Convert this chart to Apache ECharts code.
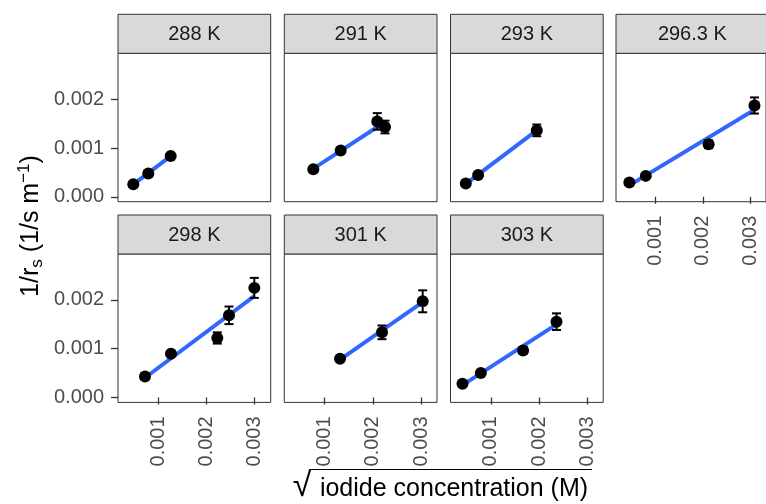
<!DOCTYPE html>
<html>
<head>
<meta charset="utf-8">
<script src="https://cdn.jsdelivr.net/npm/echarts@6/dist/echarts.min.js"></script>
<style>html,body{margin:0;padding:0;background:#fff}#c{width:766px;height:504px}</style>
</head>
<body>
<div id="c"></div>
<script>
// ---- data (values in M^0.5 and 1/s m^-1) ----
const panels = ['288 K', '291 K', '293 K', '296.3 K', '298 K', '301 K', '303 K'];

const x_288 = [0.000481, 0.000793, 0.001257];
const y_288 = [0.000259, 0.000478, 0.000837];
const e_288 = [0.00002, 0.00002, 0.00003];
const fit_288 = [[0.000481, 0.000254], [0.001257, 0.000833]];

const x_291 = [0.000766, 0.001334, 0.002093, 0.002253];
const y_291 = [0.000565, 0.000947, 0.001545, 0.00143];
const e_291 = [0.00002, 0.00003, 0.00017, 0.00013];
const fit_291 = [[0.000766, 0.000579], [0.002253, 0.001533]];

const x_293 = [0.000481, 0.000737, 0.001954];
const y_293 = [0.000273, 0.000449, 0.001361];
const e_293 = [0.00002, 0.00002, 0.00012];
const fit_293 = [[0.000481, 0.000267], [0.001954, 0.00136]];

const x_2963 = [0.000446, 0.000793, 0.00212, 0.003089];
const y_2963 = [0.000294, 0.000429, 0.001076, 0.001871];
const e_2963 = [0.00002, 0.00002, 0.00008, 0.000165];
const fit_2963 = [[0.000446, 0.000235], [0.003089, 0.001782]];

const x_298 = [0.000724, 0.001263, 0.002224, 0.002467, 0.002992];
const y_298 = [0.000431, 0.000897, 0.00122, 0.001684, 0.002246];
const e_298 = [0.00002, 0.00003, 0.000115, 0.00018, 0.000205];
const fit_298 = [[0.000724, 0.000405], [0.002992, 0.002075]];

const x_301 = [0.00132, 0.002191, 0.003035];
const y_301 = [0.000795, 0.001335, 0.001971];
const e_301 = [0.00003, 0.00014, 0.000225];
const fit_301 = [[0.00132, 0.000776], [0.003035, 0.001952]];

const x_303 = [0.000413, 0.000793, 0.00167, 0.002363];
const y_303 = [0.000281, 0.000501, 0.000965, 0.001554];
const e_303 = [0.00002, 0.00003, 0.00007, 0.00017];
const fit_303 = [[0.000413, 0.000253], [0.002363, 0.001497]];

const xTicks = [0.001, 0.002, 0.003];
const yTicks = [0.000, 0.001, 0.002];
const xRange = [0.000164, 0.003332];
const yRange = [-0.0001, 0.00294];

const xs = [x_288, x_291, x_293, x_2963, x_298, x_301, x_303];
const ys = [y_288, y_291, y_293, y_2963, y_298, y_301, y_303];
const es = [e_288, e_291, e_293, e_2963, e_298, e_301, e_303];
const fits = [fit_288, fit_291, fit_293, fit_2963, fit_298, fit_301, fit_303];

// ---- layout ----
const FONT = 'Liberation Sans, Arial, Helvetica, sans-serif';
const colLeft = [118, 284.3, 450.5, 616];
const panelW = 152.7;
const rowTop = [53.3, 254];
const panelH = 148.4;
const stripH = 39;
const pos = [[0,0],[0,1],[0,2],[0,3],[1,0],[1,1],[1,2]];
const showX = [false, false, false, true, true, true, true];
const showY = [true, false, false, false, true, false, false];

const grids = [], xAxes = [], yAxes = [], series = [], graphics = [];
panels.forEach((name, i) => {
  const [r, c] = pos[i];
  grids.push({left: colLeft[c], top: rowTop[r], width: panelW, height: panelH,
    show: true, borderColor: '#333333', borderWidth: 1, backgroundColor: '#fff', containLabel: false});
  xAxes.push({type: 'value', gridIndex: i, min: xRange[0], max: xRange[1],
    splitLine: {show: false}, axisLine: {show: false},
    axisTick: {show: showX[i], customValues: xTicks, length: 7, lineStyle: {color: '#333333', width: 1.3}},
    axisLabel: {show: showX[i], customValues: xTicks, rotate: 90, margin: 14, fontSize: 20,
      color: '#4D4D4D', fontFamily: FONT, formatter: v => v.toFixed(3)}});
  yAxes.push({type: 'value', gridIndex: i, min: yRange[0], max: yRange[1],
    splitLine: {show: false}, axisLine: {show: false},
    axisTick: {show: showY[i], customValues: yTicks, length: 7, lineStyle: {color: '#333333', width: 1.3}},
    axisLabel: {show: showY[i], customValues: yTicks, margin: 14, fontSize: 20,
      color: '#4D4D4D', fontFamily: FONT, formatter: v => Math.abs(v).toFixed(3)}});
  series.push({type: 'line', xAxisIndex: i, yAxisIndex: i, data: fits[i], symbol: 'none',
    lineStyle: {color: '#3366FF', width: 4}, z: 2, silent: true, animation: false});
  series.push({type: 'custom', xAxisIndex: i, yAxisIndex: i, z: 3, animation: false, silent: true,
    data: xs[i].map((x, k) => [x, ys[i][k] - es[i][k], ys[i][k] + es[i][k]]),
    encode: {x: 0, y: [1, 2]},
    renderItem: (params, api) => {
      const x = api.value(0);
      const top = api.coord([x, api.value(2)]);
      const bot = api.coord([x, api.value(1)]);
      const hw = 4.5, st = {stroke: '#000', lineWidth: 2};
      return {type: 'group', children: [
        {type: 'line', shape: {x1: top[0], y1: top[1], x2: bot[0], y2: bot[1]}, style: st},
        {type: 'line', shape: {x1: top[0]-hw, y1: top[1], x2: top[0]+hw, y2: top[1]}, style: st},
        {type: 'line', shape: {x1: bot[0]-hw, y1: bot[1], x2: bot[0]+hw, y2: bot[1]}, style: st}
      ]};
    }});
  series.push({type: 'scatter', xAxisIndex: i, yAxisIndex: i, z: 4, animation: false, silent: true,
    data: xs[i].map((x, k) => [x, ys[i][k]]), symbolSize: 12, itemStyle: {color: '#000', opacity: 1}});
  // strip
  const sx = colLeft[c], sy = rowTop[r] - stripH;
  graphics.push({type: 'rect', shape: {x: sx, y: sy, width: panelW, height: stripH},
    style: {fill: '#D9D9D9', stroke: '#333333', lineWidth: 1}, z: 10});
  graphics.push({type: 'text', x: sx + panelW / 2, y: sy + stripH / 2 + 1, z: 11,
    style: {text: name, fill: '#1A1A1A', font: '20px ' + FONT, textAlign: 'center', textVerticalAlign: 'middle'}});
});

// axis titles
graphics.push({type: 'text', x: 31, y: 226, rotation: Math.PI / 2, z: 11,
  style: {text: '1/r{sub|s} (1/s m{sup|−1})', fill: '#000', font: '25px ' + FONT,
    textAlign: 'center', textVerticalAlign: 'middle',
    rich: {sub: {fontSize: 17, fontFamily: FONT, fill: '#000', padding: [12, 0, 0, 0]},
           sup: {fontSize: 17, fontFamily: FONT, fill: '#000', padding: [0, 0, 14, 0]}}}});
graphics.push({type: 'text', x: 302, y: 487, z: 11,
  style: {text: '√', fill: '#000', font: '34px ' + FONT, textAlign: 'center', textVerticalAlign: 'middle'}});
graphics.push({type: 'line', shape: {x1: 309, y1: 469.5, x2: 592, y2: 469.5}, z: 11,
  style: {stroke: '#000', lineWidth: 1.2}});
graphics.push({type: 'text', x: 454, y: 489, z: 11,
  style: {text: 'iodide concentration (M)', fill: '#000', font: '25px ' + FONT,
    textAlign: 'center', textVerticalAlign: 'middle'}});

const chart = echarts.init(document.getElementById('c'), null, {renderer: 'canvas'});
chart.setOption({animation: false, backgroundColor: '#fff', grid: grids, xAxis: xAxes, yAxis: yAxes,
  series: series, graphic: graphics});
</script>
</body>
</html>
